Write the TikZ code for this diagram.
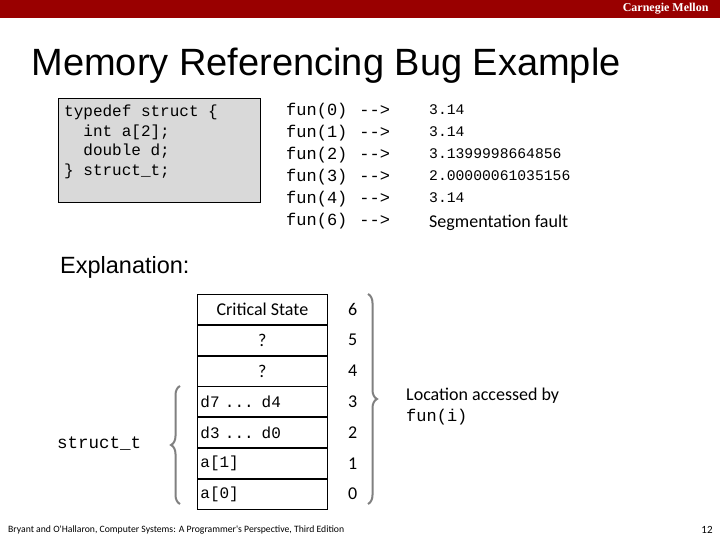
\documentclass[tikz,border=0pt]{standalone}
\usepackage{fontspec}
\setmainfont{Liberation Sans}
\setmonofont{Liberation Mono}
\newfontfamily\calfont{Carlito}
\newfontfamily\serifn{Liberation Serif}
\usetikzlibrary{decorations.pathreplacing}
\definecolor{cmured}{RGB}{153,0,0}
\begin{document}
\begin{tikzpicture}[x=1pt,y=-1pt,
  cell/.style={draw,thick,minimum width=130pt,minimum height=30pt,inner sep=3pt},
  mcell/.style={cell,font=\ttfamily\fontsize{16}{16}\selectfont,text width=124pt,align=left},
  ccell/.style={cell,font=\calfont\fontsize{18}{18}\selectfont},
  code/.style={font=\ttfamily\fontsize{16}{19.5}\selectfont,align=left,anchor=north west,inner sep=0},
  idx/.style={font=\calfont\fontsize{18}{18}\selectfont,inner sep=0},
  brc/.style={draw=gray,line width=2pt,decorate,decoration={brace,amplitude=9pt}}]
\useasboundingbox (0,0) rectangle (720,540);
\fill[cmured] (0,0) rectangle (720,18);
\node[text=white,font=\serifn\bfseries\fontsize{12}{12}\selectfont,anchor=east] (hdr) at (712,9) {Carnegie Mellon};
\node[font=\fontsize{38}{38}\selectfont,anchor=west] (title) at (28,66) {Memory Referencing Bug Example};
\node[draw,fill=black!15,minimum width=202pt,minimum height=104pt,anchor=north west] (sbox) at (58,98) {};
\node[code] (stxt) at (64,105) {typedef struct \{\\\ \ int a[2];\\\ \ double d;\\\} struct\_t;};
\node[code,font=\ttfamily\fontsize{17}{22}\selectfont] (calls) at (286,103) {fun(0)\hspace{12pt}-{}->\\fun(1)\hspace{12pt}-{}->\\fun(2)\hspace{12pt}-{}->\\fun(3)\hspace{12pt}-{}->\\fun(4)\hspace{12pt}-{}->\\fun(6)\hspace{12pt}-{}->};
\node[code,font=\ttfamily\fontsize{14.7}{22}\selectfont] (res) at (429,104) {3.14\\3.14\\3.1399998664856\\2.00000061035156\\3.14};
\node[font=\calfont\fontsize{18}{18}\selectfont,anchor=base west,inner sep=0] (seg) at (429,228) {Segmentation fault};
\node[font=\fontsize{23.5}{23.5}\selectfont,anchor=west,inner sep=0] (expl) at (60,267) {Explanation:};
\node[ccell,anchor=north west] (c6) at (197,294) {Critical State};
\node[ccell,anchor=north] (c5) at (c6.south) {?};
\node[ccell,anchor=north] (c4) at (c5.south) {?};
\node[mcell,anchor=north] (c3) at (c4.south) {d7 ... d4};
\node[mcell,anchor=north] (c2) at (c3.south) {d3 ... d0};
\node[mcell,anchor=north] (c1) at (c2.south) {a[1]};
\node[mcell,anchor=north] (c0) at (c1.south) {a[0]};
\foreach \i in {0,...,6}{\node[idx] (n\i) at ([xshift=25pt]c\i.east) {\i};}
\draw[brc] (368,294) -- (368,504);
\draw[brc] (180,504) -- (180,386);
\node[code,font=\ttfamily\fontsize{17.5}{17.5}\selectfont] (st) at (57,437) {struct\_t};
\node[font=\calfont\fontsize{18}{18}\selectfont,anchor=base west,inner sep=0] (loc) at (406,400) {Location accessed by};
\node[font=\ttfamily\fontsize{17}{17}\selectfont,anchor=base west,inner sep=0] (loci) at (406,421) {fun(i)};
\node[font=\calfont\fontsize{9.7}{9.7}\selectfont,anchor=west,inner sep=0] (foot) at (8,530) {Bryant and O'Hallaron, Computer Systems: A Programmer's Perspective, Third Edition};
\node[font=\calfont\fontsize{11}{11}\selectfont] (pg) at (707,530) {12};
\end{tikzpicture}
\end{document}
